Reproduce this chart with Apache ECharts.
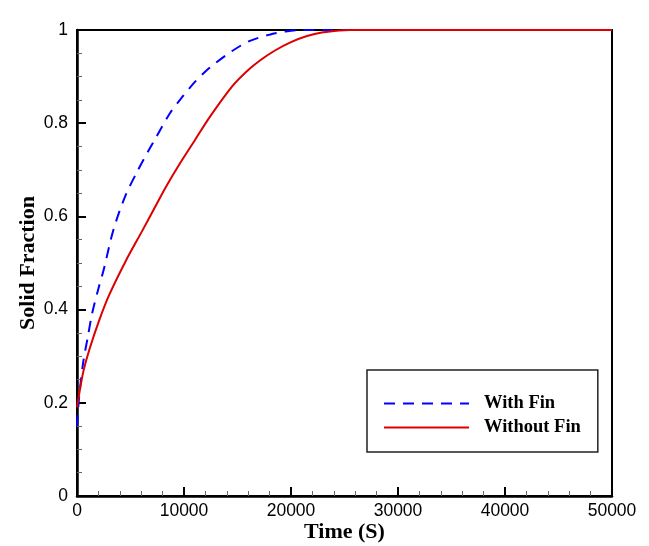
<!DOCTYPE html>
<html>
<head>
<meta charset="utf-8">
<script src="https://cdn.jsdelivr.net/npm/echarts@6/dist/echarts.min.js"></script>
<style>html,body{margin:0;padding:0;background:#fff}#c{width:649px;height:546px}</style>
</head>
<body>
<div id="c"></div>
<script>
const seriesNames = ['With Fin', 'Without Fin'];
const withFinTime = [0, 150, 300, 600, 1000, 1400, 2000, 2500, 3400, 4500, 5600, 6700, 7300, 8700, 9900, 11000, 12100, 13000, 14500, 16100, 18000, 19500, 20800, 22000, 25000, 30000, 40000, 50000];
const withFinValue = [0.15, 0.2, 0.235, 0.29, 0.34, 0.39, 0.445, 0.486, 0.571, 0.643, 0.695, 0.742, 0.766, 0.822, 0.858, 0.888, 0.913, 0.93, 0.955, 0.976, 0.99, 0.997, 1.0, 1.0, 1.0, 1.0, 1.0, 1.0];
const withoutFinTime = [0, 220, 600, 1150, 2090, 3020, 4570, 6120, 7520, 8400, 9600, 11000, 12400, 14500, 15800, 17000, 18500, 20000, 21500, 23000, 24500, 25500, 30000, 40000, 50000];
const withoutFinValue = [0.19, 0.221, 0.268, 0.314, 0.378, 0.432, 0.505, 0.57, 0.63, 0.667, 0.713, 0.763, 0.813, 0.879, 0.91, 0.933, 0.956, 0.974, 0.987, 0.995, 0.999, 1.0, 1.0, 1.0, 1.0];
const xTicks = [0, 10000, 20000, 30000, 40000, 50000];
const yTicks = [0, 0.2, 0.4, 0.6, 0.8, 1];

const pair = (t, v) => t.map((x, i) => [x, v[i]]);
const chart = echarts.init(document.getElementById('c'), null, {renderer: 'canvas'});
chart.setOption({
  animation: false,
  backgroundColor: '#fff',
  grid: {left: 77, right: 37, top: 30, bottom: 50, containLabel: false, outerBoundsMode: 'none',
    show: true, borderColor: '#000', borderWidth: 2, backgroundColor: 'transparent'},
  xAxis: {
    type: 'value', min: xTicks[0], max: xTicks[xTicks.length - 1], interval: 10000,
    name: 'Time (S)', nameLocation: 'middle', nameGap: 25, nameMoveOverlap: false,
    nameTextStyle: {fontFamily: 'Liberation Serif', fontWeight: 'bold', fontSize: 22, color: '#000'},
    axisLine: {show: true, lineStyle: {color: '#000', width: 2.5}},
    axisTick: {show: true, inside: true, length: 9, lineStyle: {color: '#000', width: 2}},
    minorTick: {show: true, splitNumber: 5, length: 5, lineStyle: {color: '#666', width: 1}},
    splitLine: {show: false},
    axisLabel: {fontFamily: 'Liberation Sans', fontSize: 17.5, color: '#000', margin: 6,
      formatter: v => String(v)}
  },
  yAxis: {
    type: 'value', min: yTicks[0], max: yTicks[yTicks.length - 1], interval: 0.2,
    name: 'Solid Fraction', nameLocation: 'middle', nameGap: 38, nameMoveOverlap: false,
    nameTextStyle: {fontFamily: 'Liberation Serif', fontWeight: 'bold', fontSize: 22, color: '#000'},
    axisLine: {show: true, lineStyle: {color: '#000', width: 2.5}},
    axisTick: {show: true, inside: true, length: 9, lineStyle: {color: '#000', width: 2}},
    minorTick: {show: true, splitNumber: 4, length: 5, lineStyle: {color: '#666', width: 1}},
    splitLine: {show: false},
    axisLabel: {fontFamily: 'Liberation Sans', fontSize: 17.5, color: '#000', margin: 9}
  },
  legend: {
    orient: 'vertical', left: 367, top: 370,
    data: seriesNames,
    itemWidth: 85, itemHeight: 14, itemGap: 5,
    padding: [24, 17, 15, 16],
    borderColor: '#222', borderWidth: 1.5, backgroundColor: '#fff',
    itemStyle: {opacity: 0, borderWidth: 0},
    textStyle: {fontFamily: 'Liberation Serif', fontWeight: 'bold', fontSize: 18.5, lineHeight: 18, color: '#000', padding: [0, 0, 0, 10]}
  },
  series: [
    {name: seriesNames[0], type: 'line', data: pair(withFinTime, withFinValue), symbol: 'none', smooth: 0.3,
     lineStyle: {color: '#0000ff', width: 2, type: [11, 8]}, itemStyle: {color: '#0000ff'}},
    {name: seriesNames[1], type: 'line', data: pair(withoutFinTime, withoutFinValue), symbol: 'none', smooth: 0.3,
     lineStyle: {color: '#dd0000', width: 2}, itemStyle: {color: '#dd0000'}}
  ]
});
</script>
</body>
</html>
